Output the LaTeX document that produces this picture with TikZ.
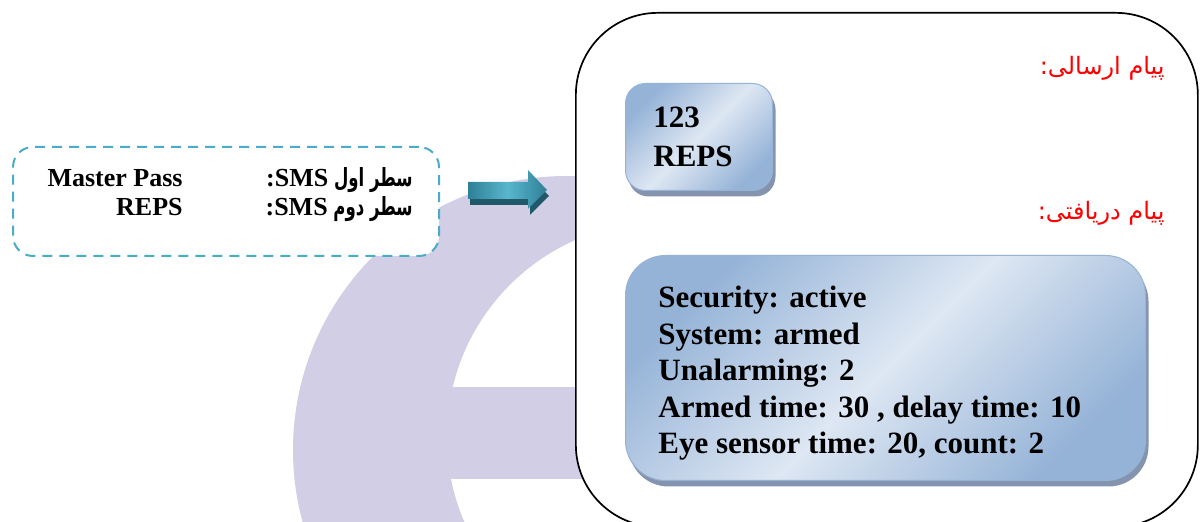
\documentclass[tikz,border=0pt]{standalone}
\usepackage{fontspec}
\setmainfont{Liberation Serif}
\newfontfamily\arabicfont[Script=Arabic]{DejaVu Sans}
\newfontfamily\arabicnarrow[Script=Arabic,FakeStretch=0.66]{DejaVu Sans}
\TeXXeTstate=1
\usepackage{tikz}
\usetikzlibrary{shadows,positioning}
\definecolor{ringlav}{RGB}{209,206,230}
\definecolor{dashcyan}{RGB}{75,172,198}
\definecolor{arrowdark}{RGB}{46,128,150}
\definecolor{arrowlight}{RGB}{88,182,206}
\definecolor{arrowshadow}{RGB}{33,89,104}
\definecolor{boxlight}{RGB}{222,231,243}
\definecolor{boxblue}{RGB}{149,179,215}
\definecolor{boxshadow}{RGB}{132,148,174}

\begin{document}
\begin{tikzpicture}[x=0.5pt,y=-0.5pt,
    framebox/.style={draw=black,line width=0.85pt,fill=white,rounded corners=41pt,inner sep=0pt},
    smsbox/.style={draw=dashcyan,line width=1pt,dash pattern=on 5pt off 3.5pt,fill=white,rounded corners=10pt,inner sep=0pt},
    msgbox/.style={draw=boxblue,line width=0.5pt,left color=boxblue,right color=boxblue,middle color=boxlight,shading angle=45,
        drop shadow={shadow xshift=1.5pt,shadow yshift=-3pt,fill=boxshadow,opacity=1},inner sep=0pt},
    smstext/.style={font=\fontsize{13}{15}\selectfont\bfseries,inner sep=0pt},
    statustext/.style={font=\fontsize{15.5}{18}\selectfont\bfseries,inner sep=0pt},
    redlabel/.style={font=\arabicfont\fontsize{12}{14}\selectfont,text=red,inner sep=0pt}]
    \useasboundingbox (0,0) rectangle (1200,522);
    %Logo nen
    \fill[ringlav] (567,450) circle[radius=274];
    \fill[white] (662,437) circle[radius=215];
    \fill[ringlav] (440,387) rectangle (600,479);
    %Khung SMS
    \node[smstext,smsbox,minimum width=213pt,minimum height=54.5pt,anchor=north west] (smsframe) at (12,146) {};
    \node[smstext,anchor=base east] (firstval) at (183,187) {Master Pass};
    \node[smstext,anchor=base east] (secondval) at (183,216) {REPS};
    \node[smstext,anchor=base east] (firstkey) at (413,187)
        {\arabicnarrow\fontsize{12.5}{14}\selectfont\beginR سطر اول \beginL\rmfamily\fontsize{13}{15}\selectfont SMS\endL\rmfamily:\endR};
    \node[smstext,anchor=base east] (secondkey) at (413,216)
        {\arabicnarrow\fontsize{12.5}{14}\selectfont\beginR سطر دوم \beginL\rmfamily\fontsize{13}{15}\selectfont SMS\endL\rmfamily:\endR};
    %Mui ten
    \path[left color=arrowdark,right color=arrowdark,middle color=arrowlight,
        drop shadow={shadow xshift=1pt,shadow yshift=-3pt,fill=arrowshadow,opacity=1}]
        (468,182) -- (528,182) -- (528,170) -- (547,190) -- (528,209) -- (528,199) -- (468,199) -- cycle;
    %Khung dien thoai
    \node[framebox,minimum width=311pt,minimum height=257pt,anchor=north west] (phone) at (575,12) {};
    \node[redlabel,anchor=base east] (sentlabel) at (1165,75) {\beginR پیام ارسالی:\endR};
    \node[redlabel,anchor=base east] (replylabel) at (1165,220) {\beginR پیام دریافتی:\endR};
    %Pham ma gui
    \node[msgbox,rounded corners=10pt,minimum width=73.5pt,minimum height=53.5pt,anchor=north west] (sendbox) at (625,83) {};
    \node[statustext,anchor=base west] (sendcode) at (653,128) {123};
    \node[statustext,anchor=base west] (sendcmd) at (653,167) {REPS};
    %Pham tra loi
    \node[msgbox,rounded corners=20pt,minimum width=260pt,minimum height=112.5pt,anchor=north west] (replybox) at (625,255) {};
    \foreach \txt [count=\i from 0] in {Security: active,System: armed,Unalarming: 2,
        {Armed time: 30 , delay time: 10},{Eye sensor time: 20, count: 2}}
        \node[statustext,anchor=base west] (status\i) at (658,{308+36.5*\i}) {\txt};
\end{tikzpicture}
\end{document}
